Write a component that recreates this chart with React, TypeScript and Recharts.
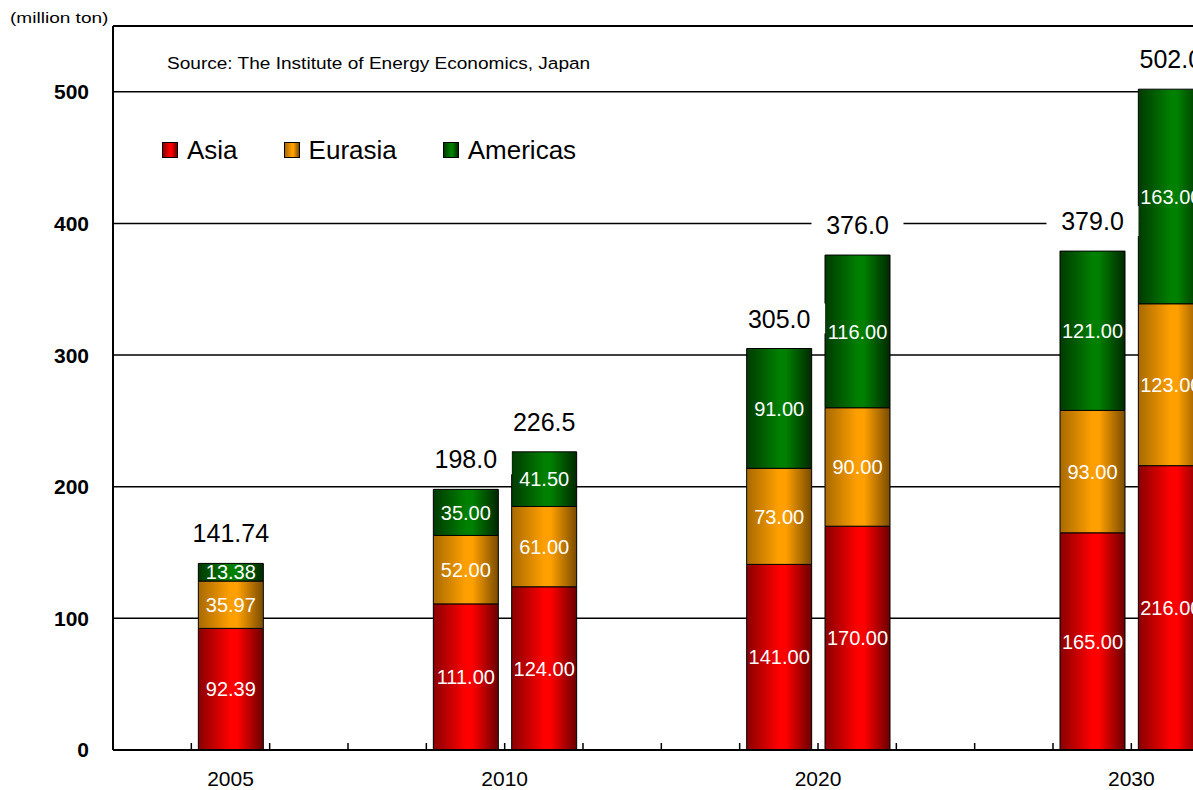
import React from "react";
import {
  BarChart,
  Bar,
  XAxis,
  YAxis,
  CartesianGrid,
  ReferenceLine,
  LabelList,
} from "recharts";

// slot index on the category axis for each bar (empty slots are gaps)
const barSlots = [1, 4, 5, 8, 9, 12, 13];
const asia = [92.39, 111, 124, 141, 170, 165, 216];
const eurasia = [35.97, 52, 61, 73, 90, 93, 123];
const americas = [13.38, 35, 41.5, 91, 116, 121, 163];
const totals = ["141.74", "198.0", "226.5", "305.0", "376.0", "379.0", "502.0"];

const years = ["2005", "2010", "2020", "2030"];
const yearSlots = [1.5, 5, 9, 13];
const yTicks = [0, 100, 200, 300, 400, 500];
const seriesNames = ["Asia", "Eurasia", "Americas"];

const SLOTS = 15;
const CHART_W = 1298;
const CHART_H = 790;
const X_H = 40;
const AXIS_Y = CHART_H - X_H;
const Y_W = 113;
const RIGHT = 10;
const BAND = (CHART_W - Y_W - RIGHT) / SLOTS;
const FONT = "Arial, 'Liberation Sans', Helvetica, sans-serif";

const data = Array.from({ length: SLOTS }, (_, slot) => {
  const k = barSlots.indexOf(slot);
  if (k < 0) return { slot };
  return {
    slot,
    asia: asia[k],
    eurasia: eurasia[k],
    americas: americas[k],
    total: totals[k],
  };
});

const grads = [
  { id: "gAsia", left: "#8a0000", mid: "#ff0000", right: "#6a0000" },
  { id: "gEurasia", left: "#a86a00", mid: "#ffa000", right: "#7a4c00" },
  { id: "gAmericas", left: "#003a00", mid: "#008000", right: "#002800" },
];

const cssGrad = (g: { left: string; mid: string; right: string }) =>
  `linear-gradient(to right, ${g.left}, ${g.mid} 50%, ${g.mid} 60%, ${g.right})`;

const box = (props: any) => {
  const vb = props.viewBox ?? props;
  return { x: vb.x, y: vb.y, width: vb.width, height: vb.height };
};

const SegLabel = (props: any) => {
  const { value } = props;
  if (value == null) return null;
  const { x, y, width, height } = box(props);
  if (!height) return null;
  return (
    <text
      x={x + width / 2}
      y={y + height / 2}
      dy="0.36em"
      textAnchor="middle"
      fill="#fff"
      fontSize={20}
      fontFamily={FONT}
    >
      {Number(value).toFixed(2)}
    </text>
  );
};

const TotalLabel = (props: any) => {
  const { value } = props;
  if (value == null) return null;
  const { x, y, width } = box(props);
  const cx = x + width / 2;
  const cy = y - 30;
  return (
    <g>
      <rect x={cx - 46} y={cy - 15} width={92} height={30} fill="#fff" />
      <text
        x={cx}
        y={cy + 9}
        textAnchor="middle"
        fill="#000"
        fontSize={25}
        fontFamily={FONT}
      >
        {value}
      </text>
    </g>
  );
};

const XTick = ({ x, payload }: any) => {
  const slot = Number(payload.value);
  const left = x - BAND / 2;
  const labels = years
    .map((t, i) => ({ t, p: yearSlots[i] }))
    .filter((d) => Math.floor(d.p) === slot);
  return (
    <g>
      {slot > 0 && (
        <line
          x1={left}
          x2={left}
          y1={AXIS_Y - 7}
          y2={AXIS_Y}
          stroke="#000"
          strokeWidth={1.5}
        />
      )}
      {labels.map((d) => (
        <text
          key={d.t}
          x={left + (d.p - slot) * BAND}
          y={AXIS_Y + 36}
          textAnchor="middle"
          fill="#000"
          fontSize={21}
          fontFamily={FONT}
        >
          {d.t}
        </text>
      ))}
    </g>
  );
};

const App = () => {
  return (
    <div
      style={{
        position: "absolute",
        left: 0,
        top: 0,
        width: 1193,
        height: CHART_H,
        overflow: "hidden",
        background: "#fff",
        fontFamily: FONT,
      }}
    >
      <BarChart
        width={CHART_W}
        height={CHART_H}
        data={data}
        margin={{ top: 26, right: RIGHT, left: 0, bottom: 0 }}
        style={{ overflow: "visible" }}
      >
        <defs>
          {grads.map((g) => (
            <linearGradient key={g.id} id={g.id} x1="0" y1="0" x2="1" y2="0">
              <stop offset="0%" stopColor={g.left} />
              <stop offset="50%" stopColor={g.mid} />
              <stop offset="60%" stopColor={g.mid} />
              <stop offset="100%" stopColor={g.right} />
            </linearGradient>
          ))}
        </defs>
        <CartesianGrid vertical={false} stroke="#000" strokeWidth={1.5} />
        <XAxis
          dataKey="slot"
          type="category"
          height={X_H}
          interval={0}
          tickLine={false}
          tickSize={0}
          tickMargin={0}
          axisLine={{ stroke: "#000", strokeWidth: 2 }}
          tick={<XTick />}
        />
        <YAxis
          type="number"
          width={Y_W}
          domain={[0, 550]}
          ticks={yTicks}
          tickLine={false}
          tickSize={0}
          tickMargin={24}
          axisLine={{ stroke: "#000", strokeWidth: 2 }}
          tick={{ fill: "#000", fontSize: 21, fontWeight: "bold", fontFamily: FONT }}
        />
        <ReferenceLine y={550} stroke="#000" strokeWidth={2} />
        <Bar
          dataKey="asia"
          stackId="s"
          fill="url(#gAsia)"
          stroke="#000"
          strokeWidth={1}
          barSize={65}
          isAnimationActive={false}
        >
          <LabelList dataKey="asia" content={SegLabel} />
        </Bar>
        <Bar
          dataKey="eurasia"
          stackId="s"
          fill="url(#gEurasia)"
          stroke="#000"
          strokeWidth={1}
          barSize={65}
          isAnimationActive={false}
        >
          <LabelList dataKey="eurasia" content={SegLabel} />
        </Bar>
        <Bar
          dataKey="americas"
          stackId="s"
          fill="url(#gAmericas)"
          stroke="#000"
          strokeWidth={1}
          barSize={65}
          isAnimationActive={false}
        >
          <LabelList dataKey="americas" content={SegLabel} />
          <LabelList dataKey="total" content={TotalLabel} />
        </Bar>
      </BarChart>

      <div
        style={{
          position: "absolute",
          left: 10,
          top: 10,
          fontSize: 15,
          lineHeight: "15px",
          whiteSpace: "nowrap",
          transform: "scaleX(1.27)",
          transformOrigin: "left center",
        }}
      >
        (million ton)
      </div>
      <div
        style={{
          position: "absolute",
          left: 167,
          top: 55,
          fontSize: 16.3,
          lineHeight: "16px",
          whiteSpace: "nowrap",
          transform: "scaleX(1.17)",
          transformOrigin: "left center",
        }}
      >
        Source: The Institute of Energy Economics, Japan
      </div>
      <div
        style={{
          position: "absolute",
          left: 162,
          top: 137,
          display: "flex",
          alignItems: "center",
          gap: 46,
          fontSize: 26,
          lineHeight: "26px",
        }}
      >
        {seriesNames.map((name, i) => (
          <div key={name} style={{ display: "flex", alignItems: "center" }}>
            <span
              style={{
                display: "inline-block",
                width: 14,
                height: 14,
                border: "1px solid #000",
                background: cssGrad(grads[i]),
                marginRight: 9,
              }}
            />
            <span>{name}</span>
          </div>
        ))}
      </div>
    </div>
  );
};

export default App;
